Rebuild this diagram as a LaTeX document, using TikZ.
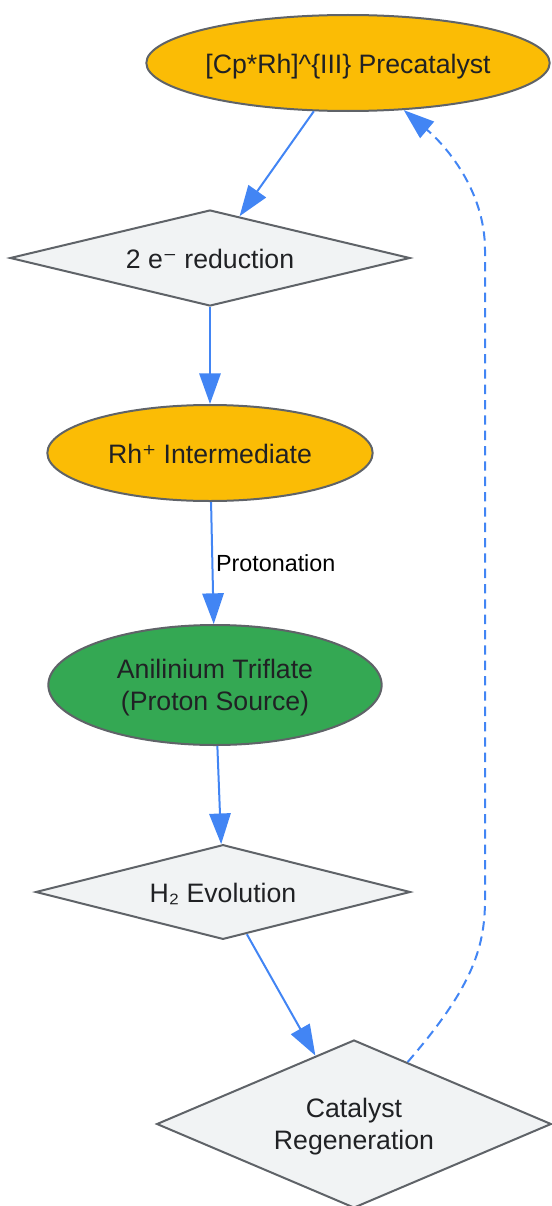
\documentclass[tikz,border=0pt]{standalone}
\usepackage{fontspec}
\setmainfont{Liberation Sans}
\newfontfamily\supfont{DejaVu Sans}
\usetikzlibrary{shapes.geometric, arrows.meta}
\definecolor{gold}{HTML}{FBBC05}
\definecolor{leaf}{HTML}{34A853}
\definecolor{mist}{HTML}{F1F3F4}
\definecolor{rim}{HTML}{5F6368}
\definecolor{ink}{HTML}{202124}
\definecolor{flow}{HTML}{4285F4}
\begin{document}
\begin{tikzpicture}[
		x = 0.75pt, y = -0.75pt,
		base/.style = {draw = rim, line width = 1.5pt, text = ink, inner sep = 0pt, align = center, font = \fontsize{20}{24}\selectfont, text height = 17.5pt, text depth = 2pt},
		twoline/.style = {text height = 39pt, text depth = 1.5pt},
		oval/.style = {base, ellipse, fill = gold},
		choice/.style = {base, diamond, shape aspect = 4, fill = mist},
		link/.style = {draw = flow, line width = 1.5pt, -{Triangle[length = 23pt, width = 16pt]}}
	]
		\useasboundingbox (0, 0) rectangle (551, 1206);
		\node (precat) [oval, minimum width = 297pt, minimum height = 72pt] at (348, 63) {[Cp*Rh]\^{}\{III\} Precatalyst};
		\node (reduce) [choice, minimum width = 300pt, minimum height = 72pt] at (210, 258) {2 e{\supfont ⁻} reduction};
		\node (rhplus) [oval, minimum width = 244pt, minimum height = 72pt] at (210, 453) {Rh{\supfont ⁺} Intermediate};
		\node (anil) [oval, twoline, fill = leaf, minimum width = 250pt, minimum height = 90pt] at (215, 685) {Anilinium Triflate\\(Proton Source)};
		\node (evolve) [choice, minimum width = 281pt, minimum height = 71pt] at (223, 892) {H₂ Evolution};
		\node (regen) [choice, twoline, shape aspect = 2.3, minimum width = 296pt, minimum height = 126pt] at (354, 1124) {Catalyst\\Regeneration};
		\coordinate (bendlow) at (485, 900);
		\coordinate (bendhigh) at (485, 250);
		\draw[link] (precat) -- (reduce);
		\draw[link] (reduce) -- (rhplus);
		\draw[link] (rhplus) -- (anil) node[midway, right, inner sep = 2pt, font = \fontsize{17.5}{21}\selectfont] {Protonation};
		\draw[link] (anil) -- (evolve);
		\draw[link] (evolve) -- (regen);
		\draw[link, dash pattern = on 7pt off 4.5pt] (regen) .. controls (470, 990) and (485, 950) .. (bendlow) -- (bendhigh) .. controls (485, 190) and (445, 145) .. (precat);
\end{tikzpicture}
\end{document}
